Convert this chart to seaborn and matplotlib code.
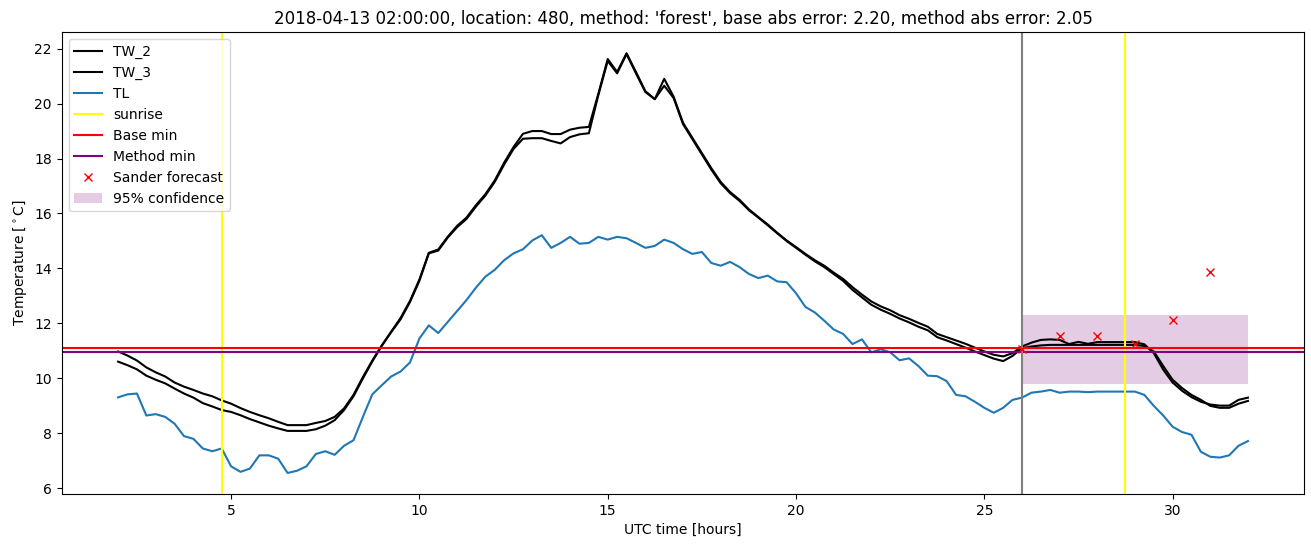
import numpy as np
import pandas as pd
import matplotlib
matplotlib.use('Agg')
import matplotlib.pyplot as plt
import seaborn as sns

# Time axis (hours UTC), 15 min steps from 02:00 to 32:00
hours = np.arange(2.0, 32.01, 0.25)

tw_2 = [10.98, 10.83, 10.65, 10.40, 10.22, 10.07, 9.85, 9.70, 9.58, 9.45, 9.35, 9.20,
        9.08, 8.92, 8.78, 8.66, 8.55, 8.42, 8.30, 8.30, 8.30, 8.38, 8.45, 8.60,
        8.91, 9.40, 10.05, 10.65, 11.20, 11.70, 12.20, 12.82, 13.60, 14.57, 14.69, 15.15,
        15.55, 15.85, 16.30, 16.70, 17.20, 17.85, 18.42, 18.90, 19.00, 19.00, 18.89, 18.89,
        19.05, 19.12, 19.15, 20.35, 21.62, 21.15, 21.83, 21.15, 20.45, 20.16, 20.90, 20.25,
        19.30, 18.75, 18.20, 17.65, 17.15, 16.78, 16.50, 16.15, 15.87, 15.60, 15.30, 15.02,
        14.78, 14.53, 14.30, 14.10, 13.85, 13.62, 13.32, 13.05, 12.80, 12.62, 12.48, 12.30,
        12.17, 12.02, 11.88, 11.62, 11.50, 11.38, 11.26, 11.12, 10.98, 10.86, 10.80, 10.92,
        11.16, 11.30, 11.40, 11.42, 11.40, 11.25, 11.33, 11.26, 11.32, 11.32, 11.32, 11.32,
        11.32, 11.24, 10.92, 10.32, 9.85, 9.55, 9.32, 9.15, 9.05, 9.01, 9.01, 9.22, 9.30]

tw_3 = [10.61, 10.48, 10.33, 10.10, 9.95, 9.82, 9.63, 9.45, 9.30, 9.10, 8.98, 8.85,
        8.78, 8.66, 8.52, 8.40, 8.28, 8.18, 8.09, 8.09, 8.09, 8.15, 8.28, 8.48,
        8.85, 9.35, 10.00, 10.62, 11.18, 11.68, 12.15, 12.78, 13.55, 14.55, 14.65, 15.12,
        15.50, 15.80, 16.25, 16.65, 17.15, 17.78, 18.35, 18.72, 18.74, 18.74, 18.64, 18.55,
        18.78, 18.88, 18.92, 20.30, 21.55, 21.10, 21.80, 21.10, 20.42, 20.16, 20.65, 20.20,
        19.25, 18.70, 18.15, 17.60, 17.10, 16.74, 16.46, 16.12, 15.85, 15.57, 15.28, 15.00,
        14.75, 14.50, 14.26, 14.05, 13.80, 13.55, 13.22, 12.95, 12.68, 12.50, 12.35, 12.18,
        12.04, 11.88, 11.75, 11.50, 11.38, 11.25, 11.12, 10.98, 10.85, 10.72, 10.63, 10.82,
        11.10, 11.16, 11.20, 11.22, 11.22, 11.22, 11.22, 11.22, 11.22, 11.22, 11.22, 11.22,
        11.22, 11.18, 10.98, 10.45, 9.95, 9.65, 9.40, 9.22, 9.00, 8.93, 8.93, 9.08, 9.18]

tl = [9.31, 9.42, 9.45, 8.65, 8.70, 8.60, 8.35, 7.90, 7.80, 7.45, 7.35, 7.45,
      6.80, 6.60, 6.72, 7.20, 7.20, 7.08, 6.56, 6.64, 6.80, 7.25, 7.35, 7.22,
      7.55, 7.75, 8.60, 9.42, 9.75, 10.07, 10.25, 10.58, 11.45, 11.93, 11.65, 12.05,
      12.45, 12.85, 13.30, 13.70, 13.95, 14.30, 14.55, 14.70, 15.02, 15.21, 14.75, 14.93,
      15.15, 14.90, 14.93, 15.15, 15.05, 15.15, 15.10, 14.93, 14.75, 14.82, 15.05, 14.93,
      14.70, 14.53, 14.60, 14.20, 14.10, 14.24, 14.05, 13.80, 13.65, 13.74, 13.53, 13.50,
      13.10, 12.60, 12.40, 12.10, 11.78, 11.62, 11.25, 11.42, 10.95, 11.06, 10.95, 10.66,
      10.73, 10.45, 10.10, 10.08, 9.90, 9.40, 9.35, 9.15, 8.93, 8.75, 8.93, 9.22,
      9.30, 9.48, 9.52, 9.58, 9.48, 9.52, 9.52, 9.50, 9.52, 9.52, 9.52, 9.52,
      9.52, 9.40, 9.00, 8.65, 8.24, 8.05, 7.95, 7.33, 7.15, 7.12, 7.20, 7.55, 7.72]

sunrise = [4.75, 28.74]
base_min = 11.10
method_min = 10.95
forecast_start = 26.0

forecast_hours = [26, 27, 28, 29, 30, 31]
forecast_vals = [11.08, 11.53, 11.53, 11.26, 12.14, 13.86]

conf_x = [26.0, 32.0]
conf_lo = 9.79
conf_hi = 12.32

df = pd.DataFrame({'hours': hours, 'TW_2': tw_2, 'TW_3': tw_3, 'TL': tl})

fig, ax = plt.subplots(figsize=(13.11, 5.47), dpi=100)
fig.subplots_adjust(left=0.047, right=0.995, top=0.941, bottom=0.097)

sns.lineplot(data=df, x='hours', y='TW_2', color='black', label='TW_2', ax=ax)
sns.lineplot(data=df, x='hours', y='TW_3', color='black', label='TW_3', ax=ax)
sns.lineplot(data=df, x='hours', y='TL', color='tab:blue', label='TL', ax=ax)

for i, s in enumerate(sunrise):
    ax.axvline(s, color='yellow', label='sunrise' if i == 0 else None)
ax.axhline(base_min, color='red', label='Base min')
ax.axhline(method_min, color='purple', label='Method min')
ax.axvline(forecast_start, color='grey')

ax.plot(forecast_hours, forecast_vals, 'x', color='red', label='Sander forecast')
ax.fill_between(conf_x, conf_lo, conf_hi, color='purple', alpha=0.2, linewidth=0,
                label='95% confidence')

ax.set_xlabel('UTC time [hours]')
ax.set_ylabel(r'Temperature [$^\circ$C]')
ax.set_title("2018-04-13 02:00:00, location: 480, method: 'forest', "
             "base abs error: 2.20, method abs error: 2.05")
ax.legend(loc='upper left')

fig.savefig('out.png', dpi=100)
